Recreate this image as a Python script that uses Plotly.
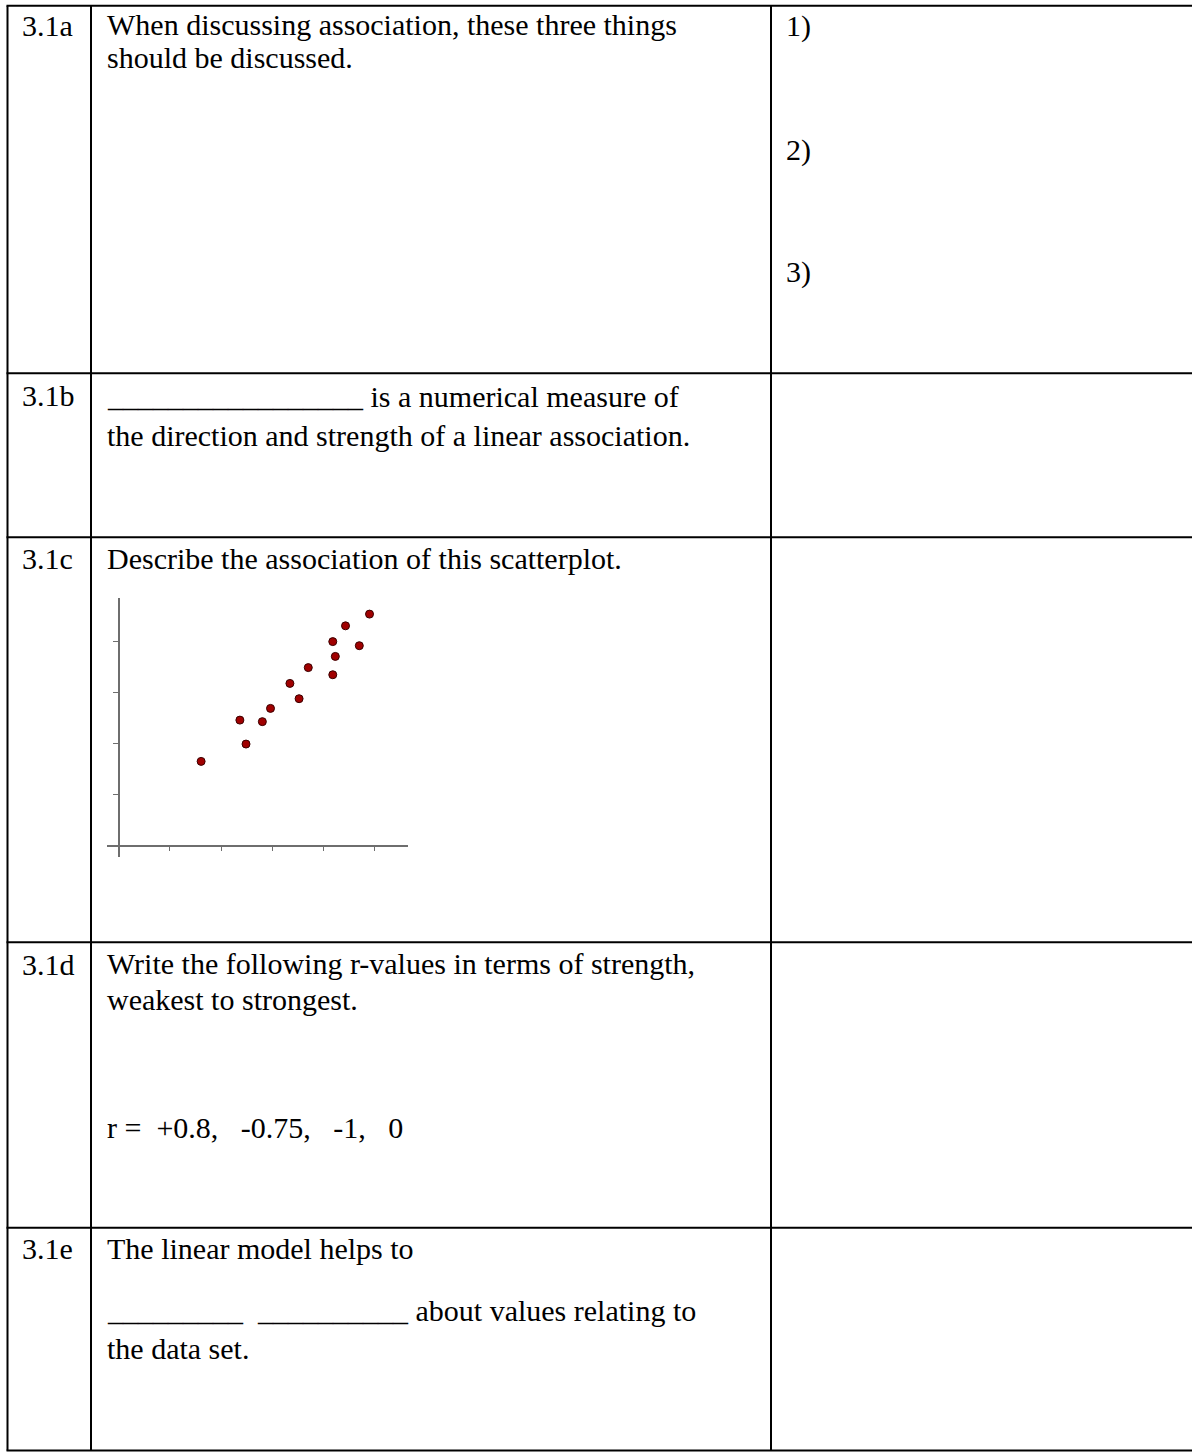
import plotly.graph_objects as go

W, H = 1192, 1452

# ---------------- data ----------------
scatter_x = [1.61, 2.37, 2.49, 2.81, 2.97, 3.35, 3.53, 3.71, 4.19, 4.24, 4.19, 4.44, 4.71, 4.91]
scatter_y = [1.65, 2.46, 1.99, 2.43, 2.69, 3.18, 2.88, 3.49, 4.00, 3.71, 3.35, 4.31, 3.92, 4.54]
x_tick_vals = [1, 2, 3, 4, 5]
y_tick_vals = [1, 2, 3, 4]

item_labels = ["3.1a", "3.1b", "3.1c", "3.1d", "3.1e"]
NB = "\u00a0"
prompt_a = ["When discussing association, these three things", "should be discussed."]
prompt_b = ["_________________ is a numerical measure of",
            "the direction and strength of a linear association."]
prompt_c = ["Describe the association of this scatterplot."]
prompt_d = ["Write the following r-values in terms of strength,",
            "weakest to strongest.",
            "r =" + NB * 2 + "+0.8," + NB * 3 + "-0.75," + NB * 3 + "-1," + NB * 3 + "0"]
prompt_e = ["The linear model helps to",
            "_________" + NB * 2 + "__________ about values relating to",
            "the data set."]
answer_a = ["1)", "2)", "3)"]

# ---------------- layout geometry (pixels) ----------------
col_x = [7.5, 91, 771]
row_y = [5.7, 373.3, 537.3, 942.3, 1227.7, 1450.5]
label_x, prompt_x, answer_x = 20, 105, 784
label_y = [25, 395, 558, 964, 1248]
prompt_y = [[24.5, 57], [396, 435], [558], [963, 999, 1127], [1248, 1310, 1348]]
answer_y = [26, 150, 272]

FONT = dict(family="Liberation Serif, Times New Roman, serif", size=30, color="black")


def fx(px):
    return px / W


def fy(py):
    return (H - py) / H


fig = go.Figure()

# scatterplot inside cell 3.1c
fig.add_trace(go.Scatter(
    x=scatter_x, y=scatter_y, mode="markers",
    marker=dict(size=8, color="#a00000", line=dict(color="#3a0000", width=1)),
    xaxis="x", yaxis="y", hoverinfo="skip", showlegend=False))

# empty trace on the pixel overlay axes
fig.add_trace(go.Scatter(x=[], y=[], xaxis="x2", yaxis="y2", showlegend=False))

axis_grey = "#6e6e6e"
origin_px, origin_py = 119, 845.7
fig.update_layout(
    width=W, height=H,
    margin=dict(l=0, r=0, t=0, b=0),
    paper_bgcolor="white", plot_bgcolor="rgba(0,0,0,0)",
    showlegend=False,
    xaxis=dict(domain=[fx(106.7), fx(408.3)], range=[-0.24, 5.67],
               anchor="free", position=fy(origin_py),
               showline=True, linecolor=axis_grey, linewidth=1.8,
               ticks="outside", ticklen=4, tickwidth=1.4, tickcolor=axis_grey,
               tickvals=x_tick_vals, showticklabels=False,
               showgrid=False, zeroline=False, fixedrange=True),
    yaxis=dict(domain=[fy(856.7), fy(598.3)], range=[-0.22, 4.85],
               anchor="free", position=fx(origin_px),
               showline=True, linecolor=axis_grey, linewidth=1.8,
               ticks="outside", ticklen=5, tickwidth=1.4, tickcolor=axis_grey,
               tickvals=y_tick_vals, showticklabels=False,
               showgrid=False, zeroline=False, fixedrange=True),
    xaxis2=dict(domain=[0, 1], range=[0, W], visible=False, anchor="y2", fixedrange=True),
    yaxis2=dict(domain=[0, 1], range=[H, 0], visible=False, anchor="x2", fixedrange=True),
)

# table lines
shapes = []
for y in row_y:
    shapes.append(dict(type="line", xref="x2", yref="y2", x0=col_x[0] - 1, x1=W, y0=y, y1=y,
                       line=dict(color="black", width=2)))
for x in col_x:
    shapes.append(dict(type="line", xref="x2", yref="y2", x0=x, x1=x, y0=row_y[0], y1=row_y[-1],
                       line=dict(color="black", width=2)))
fig.update_layout(shapes=shapes)

# text
annotations = []


def add_text(x, y, t):
    annotations.append(dict(x=x, y=y, xref="x2", yref="y2", text=t, showarrow=False,
                            xanchor="left", yanchor="middle", font=FONT))


for lab, y in zip(item_labels, label_y):
    add_text(label_x, y, lab)
for lines, ys in zip([prompt_a, prompt_b, prompt_c, prompt_d, prompt_e], prompt_y):
    for t, y in zip(lines, ys):
        add_text(prompt_x, y, t)
for t, y in zip(answer_a, answer_y):
    add_text(answer_x, y, t)
fig.update_layout(annotations=annotations)

fig.write_html("out.html", config={"displayModeBar": False},
               post_script="document.body.style.margin='0px';document.body.style.overflow='hidden';")
